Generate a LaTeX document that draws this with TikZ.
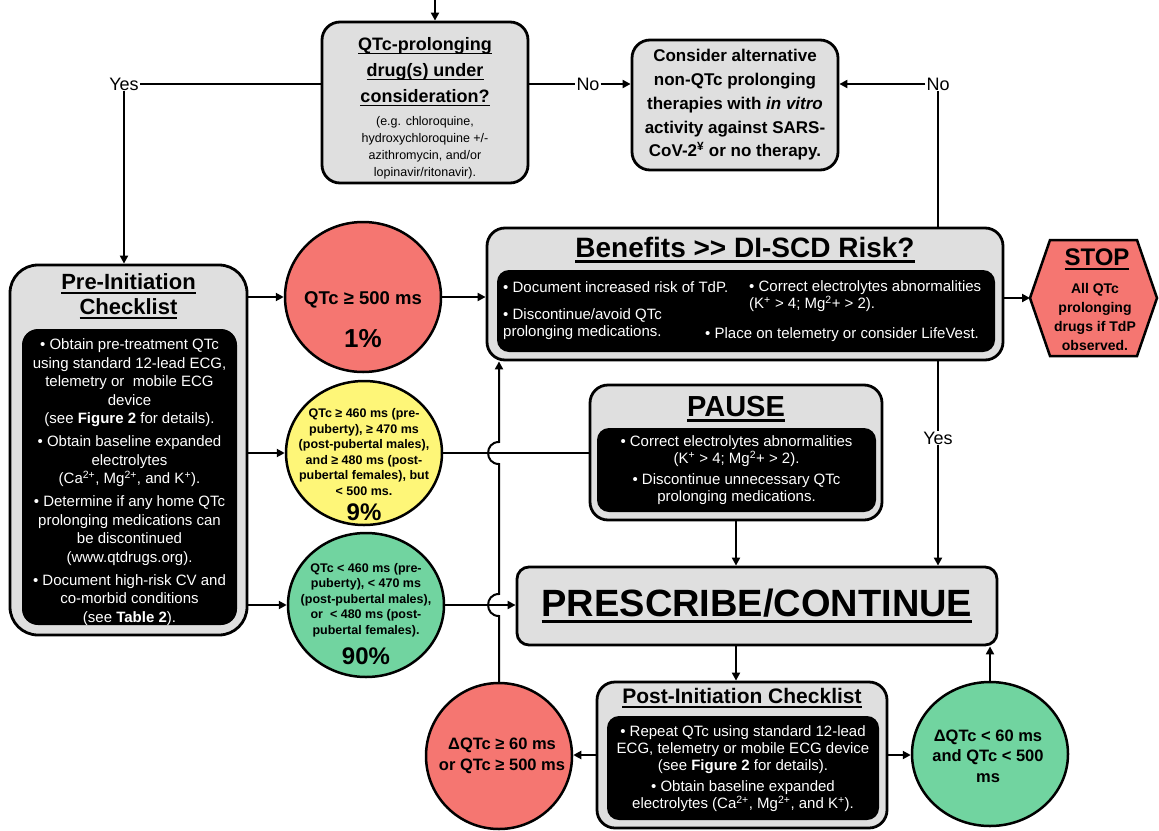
\documentclass[tikz,border=0pt]{standalone}
\usepackage{fontspec}
\setmainfont{Liberation Sans}
\usetikzlibrary{arrows.meta,shapes.geometric,calc}
\definecolor{boxgray}{RGB}{223,223,223}
\definecolor{cred}{RGB}{245,118,113}
\definecolor{cyel}{RGB}{254,246,120}
\definecolor{cgrn}{RGB}{113,212,160}
\newcommand\myul[1]{\leavevmode\setbox0\hbox{#1}\rlap{\rule[-0.19em]{\wd0}{0.085em}}\box0}
\begin{document}
\begin{tikzpicture}[x=1pt,y=-1pt,
  conn/.style={line width=2pt, draw=black},
  arr/.style={conn, -{Triangle[length=8pt,width=8pt]}},
  gbox/.style={draw=black, line width=2.8pt, fill=boxgray, rounded corners=18pt, inner sep=0pt, align=center},
  ibox/.style={fill=black, rounded corners=12pt, inner sep=0pt},
  circ/.style={ellipse, draw=black, line width=2.5pt, inner sep=0pt},
  txt/.style={inner sep=0pt, align=center},
  wt/.style={inner sep=0pt, align=center, text=white, font=\fontsize{15}{17}\selectfont},
  lbl/.style={inner sep=1pt, font=\fontsize{18}{20}\selectfont}]
\useasboundingbox (0,0) rectangle (1159,830);

% top decision box
\node[gbox, minimum width=206pt, minimum height=161pt] (qtc) at (425,102.5) {};
\node[txt, font=\bfseries\fontsize{18}{26}\selectfont] (qtcT) at (425,72) {\myul{QTc-prolonging}\\\myul{drug(s) under}\\\myul{consideration?}};
\node[txt, font=\fontsize{12.5}{17}\selectfont] (qtcS) at (425,148) {(e.g. chloroquine,\\hydroxychloroquine +/-\\azithromycin, and/or\\lopinavir/ritonavir).};

\node[gbox, minimum width=206pt, minimum height=130pt, font=\bfseries\fontsize{17}{23.8}\selectfont] (cons) at (735,105) {Consider alternative\\non-QTc prolonging\\therapies with \textit{in vitro}\\activity against SARS-\\CoV-2\textsuperscript{¥} or no therapy.};

\node[lbl] (yes1) at (124,84) {Yes};
\node[lbl] (no1) at (588,84) {No};
\node[lbl] (no2) at (938,84) {No};
\coordinate (topIn) at (435,0);

% Benefits box
\node[gbox, minimum width=516pt, minimum height=132pt] (ben) at (745,294) {};
\node[txt, font=\bfseries\fontsize{28}{30}\selectfont] (benT) at (745,250) {\myul{Benefits >{}> DI-SCD Risk?}};
\node[ibox, minimum width=498pt, minimum height=82pt] (benIn) at (746,311) {};
\node[wt, anchor=west] (b1) at (503,287) {• Document increased risk of TdP.};
\node[wt, anchor=west, align=left] (b2) at (503,324) {• Discontinue/avoid QTc\\prolonging medications.};
\node[wt, anchor=west, align=left] (b3) at (749,296) {• Correct electrolytes abnormalities\\(K\textsuperscript{+} > 4; Mg\textsuperscript{2}+ > 2).};
\node[wt, anchor=west] (b4) at (705,335) {• Place on telemetry or consider LifeVest.};

% STOP hexagon
\coordinate (stopL) at (1030,298);
\draw[line width=2.5pt, fill=cred] (stopL) -- (1050,240) -- (1137,240) -- (1157,298) -- (1137,356) -- (1050,356) -- cycle;
\node[txt, font=\bfseries\fontsize{24}{26}\selectfont] (stopT) at (1097,259) {\myul{STOP}};
\node[txt, font=\bfseries\fontsize{14}{19}\selectfont] (stop) at (1095,317) {All QTc\\prolonging\\drugs if TdP\\observed.};

% Pre-initiation checklist
\node[gbox, rounded corners=28pt, minimum width=237pt, minimum height=370pt] (pre) at (128.5,450) {};
\node[txt, font=\bfseries\fontsize{22}{25}\selectfont] (preT) at (128.5,296) {\myul{Pre-Initiation}\\\myul{Checklist}};
\node[ibox, rounded corners=16pt, minimum width=215pt, minimum height=296pt] (preIn) at (129.5,477) {};
\node[wt, font=\fontsize{15}{18.5}\selectfont] (preX) at (129.5,482) {• Obtain pre-treatment QTc\\using standard 12-lead ECG,\\telemetry or \ mobile ECG\\device\\(see \textbf{Figure 2} for details).\\[4.5pt]• Obtain baseline expanded\\electrolytes\\(Ca\textsuperscript{2+}, Mg\textsuperscript{2+}, and K\textsuperscript{+}).\\[4.5pt]• Determine if any home QTc\\prolonging medications can\\be discontinued\\(www.qtdrugs.org).\\[4.5pt]• Document high-risk CV and\\co-morbid conditions\\(see \textbf{Table 2}).};

% circles
\node[circ, fill=cred, minimum width=156pt, minimum height=150pt] (red1) at (363,297) {};
\node[txt, font=\bfseries\fontsize{18.5}{20}\selectfont] (red1a) at (363,300) {QTc ≥ 500 ms};
\node[txt, font=\bfseries\fontsize{26}{28}\selectfont] (red1b) at (363,339) {1\%};

\node[circ, fill=cyel, minimum width=156pt, minimum height=144pt] (yel) at (364,453) {};
\node[txt, font=\bfseries\fontsize{12.5}{15.6}\selectfont] (yela) at (364,452) {QTc ≥ 460 ms (pre-\\puberty), ≥ 470 ms\\(post-pubertal males),\\and ≥ 480 ms (post-\\pubertal females), but\\< 500 ms.};
\node[txt, font=\bfseries\fontsize{24}{26}\selectfont] (yelb) at (364,512) {9\%};

\node[circ, fill=cgrn, minimum width=156pt, minimum height=144pt] (grn) at (366,605) {};
\node[txt, font=\bfseries\fontsize{12.5}{15.6}\selectfont] (grna) at (366,600) {QTc < 460 ms (pre-\\puberty), < 470 ms\\(post-pubertal males),\\or \ < 480 ms (post-\\pubertal females).};
\node[txt, font=\bfseries\fontsize{24}{26}\selectfont] (grnb) at (366,656) {90\%};

% PAUSE
\node[gbox, minimum width=292pt, minimum height=135pt] (pause) at (736,452.5) {};
\node[txt, font=\bfseries\fontsize{29}{30}\selectfont] (pauseT) at (736,409) {\myul{PAUSE}};
\node[ibox, minimum width=279pt, minimum height=84pt] (pauseIn) at (736.5,470) {};
\node[wt] (pauseX) at (736.5,470) {• Correct electrolytes abnormalities\\(K\textsuperscript{+} > 4; Mg\textsuperscript{2}+ > 2).\\[4pt]• Discontinue unnecessary QTc\\prolonging medications.};

% PRESCRIBE
\node[gbox, rounded corners=12pt, minimum width=480pt, minimum height=78pt, font=\bfseries\fontsize{38}{40}\selectfont] (pres) at (757,606) {\myul{PRESCRIBE/CONTINUE}};

% Post-initiation
\node[gbox, minimum width=290pt, minimum height=146pt] (post) at (742,755) {};
\node[txt, font=\bfseries\fontsize{21}{23}\selectfont] (postT) at (742,698) {\myul{Post-Initiation Checklist}};
\node[ibox, minimum width=272pt, minimum height=104pt] (postIn) at (743,768) {};
\node[wt] (postX) at (743,768.5) {• Repeat QTc using standard 12-lead\\ECG, telemetry or mobile ECG device\\(see \textbf{Figure 2} for details).\\[4pt]• Obtain baseline expanded\\electrolytes (Ca\textsuperscript{2+}, Mg\textsuperscript{2+}, and K\textsuperscript{+}).};

\node[circ, fill=cred, minimum size=146pt] (red2) at (499,756) {};
\node[txt, font=\bfseries\fontsize{16.5}{21}\selectfont] (red2a) at (502,756) {ΔQTc ≥ 60 ms\\or QTc ≥ 500 ms};
\node[circ, fill=cgrn, minimum width=156pt, minimum height=144pt] (grn2) at (990,754) {};
\node[txt, font=\bfseries\fontsize{16.5}{20.5}\selectfont] (grn2a) at (988,756) {ΔQTc < 60 ms\\and QTc < 500\\ms};

\node[lbl] (yes2) at (938,438) {Yes};

% connectors
\draw[arr] (topIn) -- (topIn |- qtc.north);
\draw[conn] (yes1.east) -- (yes1.east -| qtc.west);
\draw[arr] (yes1.south) -- (yes1.south |- pre.north);
\draw[conn] (qtc.east |- no1) -- (no1.west);
\draw[arr] (no1.east) -- (no1 -| cons.west);
\draw[arr] (no2.west) -- (no2 -| cons.east);
\draw[conn] (no2.south) -- (no2.south |- ben.north);
\draw[arr] (pre.east |- red1) -- (red1.west);
\draw[arr] (pre.east |- yel) -- (yel.west);
\draw[arr] (pre.east |- grn) -- (grn.west);
\draw[arr] (red1.east) -- (red1 -| ben.west);
\draw[arr] (ben.east |- stopL) -- (stopL);
\draw[conn] (yel.east) -- (yel -| pause.west);
\draw[arr] (grn.east) -- (grn -| pres.west);
\draw[arr] (red2.north) -- ($(red2.north |- grn.east)+(0,11)$)
   to[out=180,in=180,looseness=1.7] ($(red2.north |- grn.east)+(0,-11)$)
   -- ($(red2.north |- yel.east)+(0,11)$)
   to[out=180,in=180,looseness=1.7] ($(red2.north |- yel.east)+(0,-11)$)
   -- (red2.north |- ben.south);
\draw[conn] (yes2 |- ben.south) -- (yes2.north);
\draw[arr] (yes2.south) -- (yes2 |- pres.north);
\draw[arr] (pause.south) -- (pause.south |- pres.north);
\draw[arr] (pause.south |- pres.south) -- (pause.south |- post.north);
\draw[arr] (post.west) -- (post.west -| red2.east);
\draw[arr] (post.east) -- (post.east -| grn2.west);
\draw[arr] (grn2.north) -- (grn2.north |- pres.south);
\end{tikzpicture}
\end{document}
